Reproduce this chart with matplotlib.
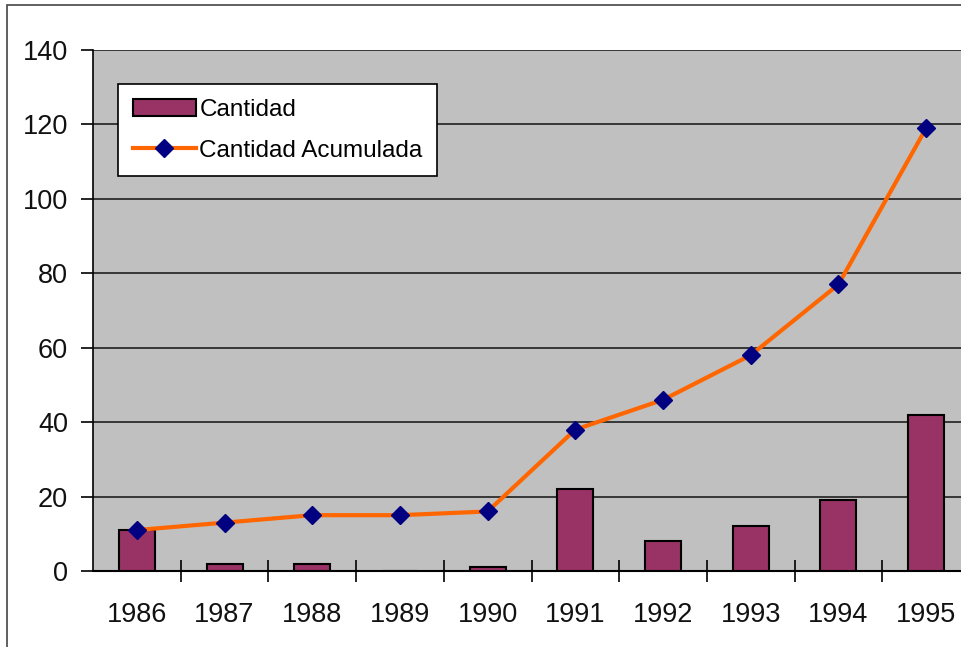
import numpy as np
import matplotlib.pyplot as plt
from matplotlib.patches import Rectangle

plt.rcParams['font.family'] = ['Liberation Sans', 'DejaVu Sans']

# Data
years = ['1986', '1987', '1988', '1989', '1990', '1991', '1992', '1993', '1994', '1995']
cantidad = [11, 2, 2, 0, 1, 22, 8, 12, 19, 42]
acumulada = [11, 13, 15, 15, 16, 38, 46, 58, 77, 119]

fig = plt.figure(figsize=(9.61, 6.47), dpi=100)
# outer chart border (cut off on the right and bottom in the original)
fig.patches.append(Rectangle((7 / 961, -0.05), 1.1, 1 - 5 / 647 + 0.05,
                             transform=fig.transFigure, fill=False,
                             edgecolor='#444444', linewidth=1.2))

ax = fig.add_axes([93 / 961, 76 / 647, 877 / 961, 521 / 647])
ax.set_facecolor('#C0C0C0')

x = np.arange(len(years))
bars = ax.bar(x, cantidad, width=0.41, color='#993366', edgecolor='black',
              linewidth=1.5, label='Cantidad', zorder=3)
line, = ax.plot(x, acumulada, color='#FF6600', linewidth=3, marker='D',
                markersize=9, markerfacecolor='#000080', markeredgecolor='#000080',
                label='Cantidad Acumulada', zorder=4)

ax.set_xlim(-0.5, len(years) - 0.5)
ax.set_ylim(0, 140)
ax.set_yticks(range(0, 141, 20))
ax.yaxis.grid(True, color='#202020', linewidth=1.2)
ax.set_axisbelow(True)

ax.set_xticks(x)
ax.set_xticklabels(years, fontsize=19.5, color='#111111')
ax.tick_params(axis='x', which='major', length=0, pad=22)
ax.set_xticks(np.arange(0.5, len(years) - 0.5), minor=True)
ax.tick_params(axis='x', which='minor', direction='inout', length=16, width=1.2)
ax.tick_params(axis='y', labelsize=19.5, length=9, width=1.2, colors='black', pad=9)
for lab in ax.get_yticklabels():
    lab.set_color('#111111')

for s in ['top', 'right']:
    ax.spines[s].set_visible(False)
ax.spines['left'].set_linewidth(1.2)
ax.spines['bottom'].set_linewidth(1.5)

leg = ax.legend([bars, line], ['Cantidad', 'Cantidad Acumulada'],
                loc='upper left', bbox_to_anchor=(25 / 877, 1 - 34 / 521),
                borderaxespad=0,
                fontsize=17.5, frameon=True, fancybox=False, framealpha=1,
                edgecolor='black', handlelength=2.6, handleheight=0.75,
                labelspacing=0.75, borderpad=0.6, handletextpad=0.15)
leg.get_frame().set_linewidth(1.2)

fig.savefig('out.png', dpi=100)
